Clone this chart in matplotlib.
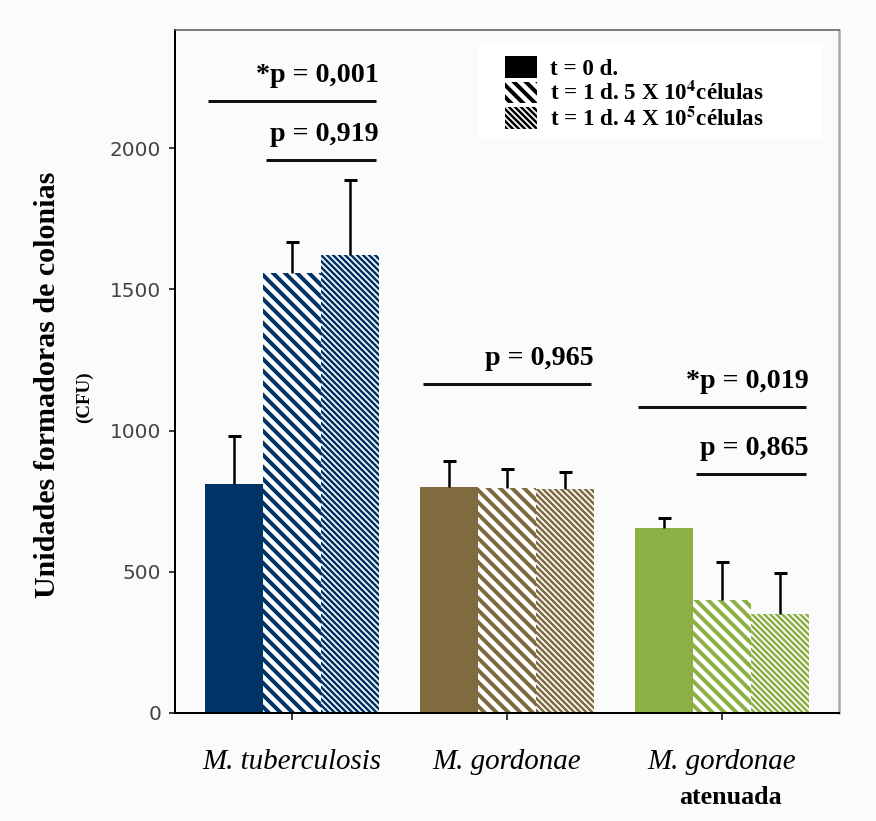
import numpy as np
import matplotlib
matplotlib.use('Agg')
from matplotlib import pyplot as plt
from matplotlib.patches import Patch, Rectangle

plt.rcParams['mathtext.fontset'] = 'stix'

GROUPS = ['M. tuberculosis', 'M. gordonae', 'M. gordonae']
GROUP_COLORS = ['#003366', '#806a40', '#8cb043']

T0_MEANS = [811, 799, 655]
T0_ERR = [170, 93, 34]
T1A_MEANS = [1557, 795, 400]
T1A_ERR = [112, 68, 133]
T1B_MEANS = [1622, 792, 350]
T1B_ERR = [266, 62, 145]

SERIES_LABELS = ['t = 0 d.',
                 r't = 1 d. 5 X 10$^{\mathbf{4}}$células',
                 r't = 1 d. 4 X 10$^{\mathbf{5}}$células']
HATCHES = ['', '\\\\', '\\\\\\\\']
HATCH_LW = [0, 4.0, 2.5]

# (group, first bar, last bar, y, label)
COMPARISONS = [
    (0, 0, 2, 2166, '*p = 0,001'),
    (0, 1, 2, 1958, 'p = 0,919'),
    (1, 0, 2, 1165, 'p = 0,965'),
    (2, 0, 2, 1083, '*p = 0,019'),
    (2, 1, 2, 846, 'p = 0,865'),
]

WIDTH = 0.27
SERIF = 'Liberation Serif'
BG = '#fbfbfb'


def hatch_lw(artist, lw):
    if hasattr(artist, 'set_hatch_linewidth') and lw > 0:
        artist.set_hatch_linewidth(lw)


fig = plt.figure(figsize=(876 / 72, 821 / 72), dpi=72, facecolor=BG)
ax = fig.add_axes([175 / 876, 1 - 713 / 821, 664 / 876, 683 / 821])
ax.set_facecolor(BG)

x = np.arange(len(GROUPS))
series = [(T0_MEANS, T0_ERR), (T1A_MEANS, T1A_ERR), (T1B_MEANS, T1B_ERR)]
for i, (means, errs) in enumerate(series):
    pos = x + (i - 1) * WIDTH
    means = np.array(means)
    errs = np.array(errs)
    for g in range(len(GROUPS)):
        if i == 0:
            fc, ec = GROUP_COLORS[g], GROUP_COLORS[g]
        else:
            fc, ec = 'white', GROUP_COLORS[g]
        with plt.rc_context({'hatch.linewidth': max(HATCH_LW[i], 0.1)}):
            bars = ax.bar(pos[g], means[g], WIDTH, facecolor=fc, edgecolor=ec,
                          hatch=HATCHES[i] or None, linewidth=0, zorder=2)
        for b in bars:
            hatch_lw(b, HATCH_LW[i])
    # upper error bars only
    ax.vlines(pos, means, means + errs, color='black', linewidth=2.5, zorder=3)
    ax.plot(pos, means + errs, linestyle='none', marker='_', markersize=13,
            markeredgewidth=3, color='black', zorder=3)

for g, b0, b1, y, label in COMPARISONS:
    x0 = x[g] + (b0 - 1.5) * WIDTH + 0.015
    x1 = x[g] + (b1 - 0.5) * WIDTH - 0.015
    ax.plot([x0, x1], [y, y], color='#111111', linewidth=3, solid_capstyle='butt', zorder=4)
    ax.annotate(label, (x1, y), xytext=(3, 19), textcoords='offset points',
                ha='right', va='baseline', fontsize=28, fontweight='bold',
                family=SERIF, color='black')

ax.set_xlim(-0.544, 2.544)
ax.set_ylim(0, 2418)
ax.set_yticks([0, 500, 1000, 1500, 2000])
ax.tick_params(axis='y', direction='out', length=6, width=1.5, pad=8,
               labelsize=20, labelcolor='#444444')
ax.set_xticks(x)
ax.set_xticklabels(GROUPS, fontsize=29, family=SERIF, style='italic')
ax.tick_params(axis='x', direction='out', length=7, width=1.5, pad=29)
ax.text(x[2] + 0.04, -0.123, 'atenuada', transform=ax.get_xaxis_transform(),
        ha='center', va='center', fontsize=26, fontweight='bold', family=SERIF)

for side in ['left', 'bottom']:
    ax.spines[side].set_linewidth(2)
    ax.spines[side].set_color('black')
ax.spines['top'].set_linewidth(1.5)
ax.spines['top'].set_color('#555555')
ax.spines['right'].set_linewidth(2.5)
ax.spines['right'].set_color('#aaaaaa')

ax.text((48 - 175) / 664, 0.48, 'Unidades formadoras de colonias', transform=ax.transAxes,
        rotation=90, ha='center', va='center', fontsize=30, fontweight='bold', family=SERIF)
ax.text((84 - 175) / 664, 0.463, '(CFU)', transform=ax.transAxes, rotation=90,
        ha='center', va='center', fontsize=19, fontweight='bold', family=SERIF)

# legend on a white box
ax.add_patch(Rectangle(((478 - 175) / 664, (713 - 138) / 683), (822 - 478) / 664, 94 / 683,
                       transform=ax.transAxes, facecolor='white', edgecolor='none', zorder=5))
handles = []
for i in range(3):
    if i == 0:
        h = Patch(facecolor='black', edgecolor='black', linewidth=0)
    else:
        h = Patch(facecolor='white', edgecolor='black', hatch=HATCHES[i], linewidth=0)
    hatch_lw(h, HATCH_LW[i])
    handles.append(h)
leg = ax.legend(handles, SERIES_LABELS, loc='upper left',
                bbox_to_anchor=((505 - 175) / 664, (713 - 56) / 683),
                frameon=False, borderpad=0, borderaxespad=0,
                prop={'family': SERIF, 'weight': 'bold', 'size': 23},
                handlelength=32 / 23, handleheight=25 / 23, labelspacing=0.08,
                handletextpad=0.55)
leg.set_zorder(6)
for h in leg.legend_handles:
    hatch_lw(h, HATCH_LW[leg.legend_handles.index(h)])

plt.savefig('out.png', dpi=72, facecolor=fig.get_facecolor())
